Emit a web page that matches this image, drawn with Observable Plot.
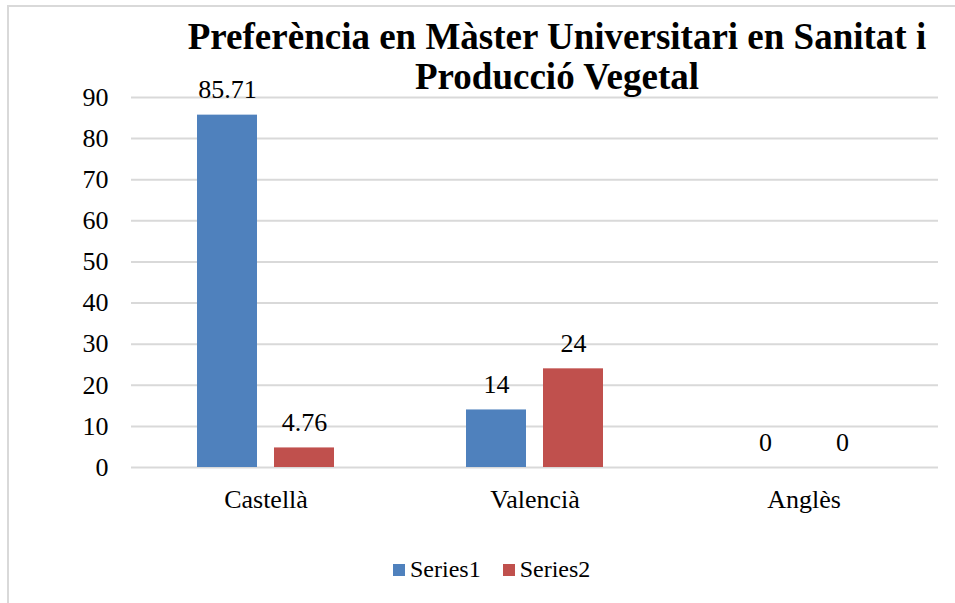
<!DOCTYPE html>
<html>
<head>
<meta charset="utf-8">
<script src="https://cdn.jsdelivr.net/npm/d3@7"></script>
<script src="https://cdn.jsdelivr.net/npm/@observablehq/plot@0.6"></script>
<style>
  html, body { margin: 0; padding: 0; background: #fff; }
  #wrap { position: relative; width: 955px; height: 603px; overflow: hidden; }
  #border { position: absolute; left: 7px; top: 5px; width: 960px; height: 620px; border-left: 2px solid #d9d9d9; border-top: 2px solid #d9d9d9; }
  #title { position: absolute; left: 157px; width: 800px; top: 17px; text-align: center; font-weight: bold; font-size: 37px; line-height: 40px; color: #000; }
  #legend { position: absolute; top: 556px; left: 393px; display: flex; align-items: center; font-size: 24px; color: #000; white-space: nowrap; }
  .sw { display: inline-block; width: 12px; height: 12px; margin-right: 5px; }
  .item { display: flex; align-items: center; margin-right: 22px; }
  #chart { position: absolute; left: 0; top: 0; }
  .serif { font-family: 'Liberation Serif', 'Times New Roman', serif; }
</style>
</head>
<body>
<div id="wrap">
  <div id="border"></div>
  <div id="chart"></div>
  <div id="title" class="serif"></div>
  <div id="legend" class="serif"></div>
</div>
<script>
const titleLines = ["Preferència en Màster Universitari en Sanitat i", "Producció Vegetal"];
const categories = ["Castellà", "Valencià", "Anglès"];
const seriesNames = ["Series1", "Series2"];
const series1 = [85.71, 14, 0];
const series2 = [4.76, 24, 0];
const colors = ["#4F81BD", "#C0504D"];
const yTicks = [0, 10, 20, 30, 40, 50, 60, 70, 80, 90];

const rows = categories.flatMap((c, i) => [
  {category: c, series: seriesNames[0], value: series1[i]},
  {category: c, series: seriesNames[1], value: series2[i]}
]);

const FONT = "'Liberation Serif', 'Times New Roman', serif";

const chart = Plot.plot({
  width: 955,
  height: 603,
  marginTop: 97,
  marginBottom: 136,
  marginLeft: 131,
  marginRight: 17,
  style: {fontFamily: FONT, fontSize: "26px", color: "#000", background: "transparent", overflow: "visible"},
  fx: {domain: categories, padding: 0, label: null, axis: "bottom", tickSize: 0, tickPadding: 22},
  x: {domain: seriesNames, paddingInner: 0.2208, paddingOuter: 0.857, axis: null},
  y: {domain: [0, 90], ticks: yTicks, tickSize: 0, tickPadding: 23, label: null},
  color: {domain: seriesNames, range: colors},
  marks: [
    Plot.ruleY(yTicks, {stroke: "#d9d9d9", strokeWidth: 2}),
    Plot.barY(rows, {fx: "category", x: "series", y: "value", fill: "series"}),
    Plot.text(rows, {fx: "category", x: "series", y: "value", text: d => String(d.value), dy: -25, fontSize: 26, fontFamily: FONT, fill: "#000"})
  ]
});
document.getElementById("chart").appendChild(chart);

const t = document.getElementById("title");
titleLines.forEach((l, i) => {
  if (i) t.appendChild(document.createElement("br"));
  t.appendChild(document.createTextNode(l));
});

const lg = document.getElementById("legend");
seriesNames.forEach((s, i) => {
  const it = document.createElement("div");
  it.className = "item";
  const sw = document.createElement("span");
  sw.className = "sw";
  sw.style.background = colors[i];
  it.appendChild(sw);
  it.appendChild(document.createTextNode(s));
  lg.appendChild(it);
});
</script>
</body>
</html>
